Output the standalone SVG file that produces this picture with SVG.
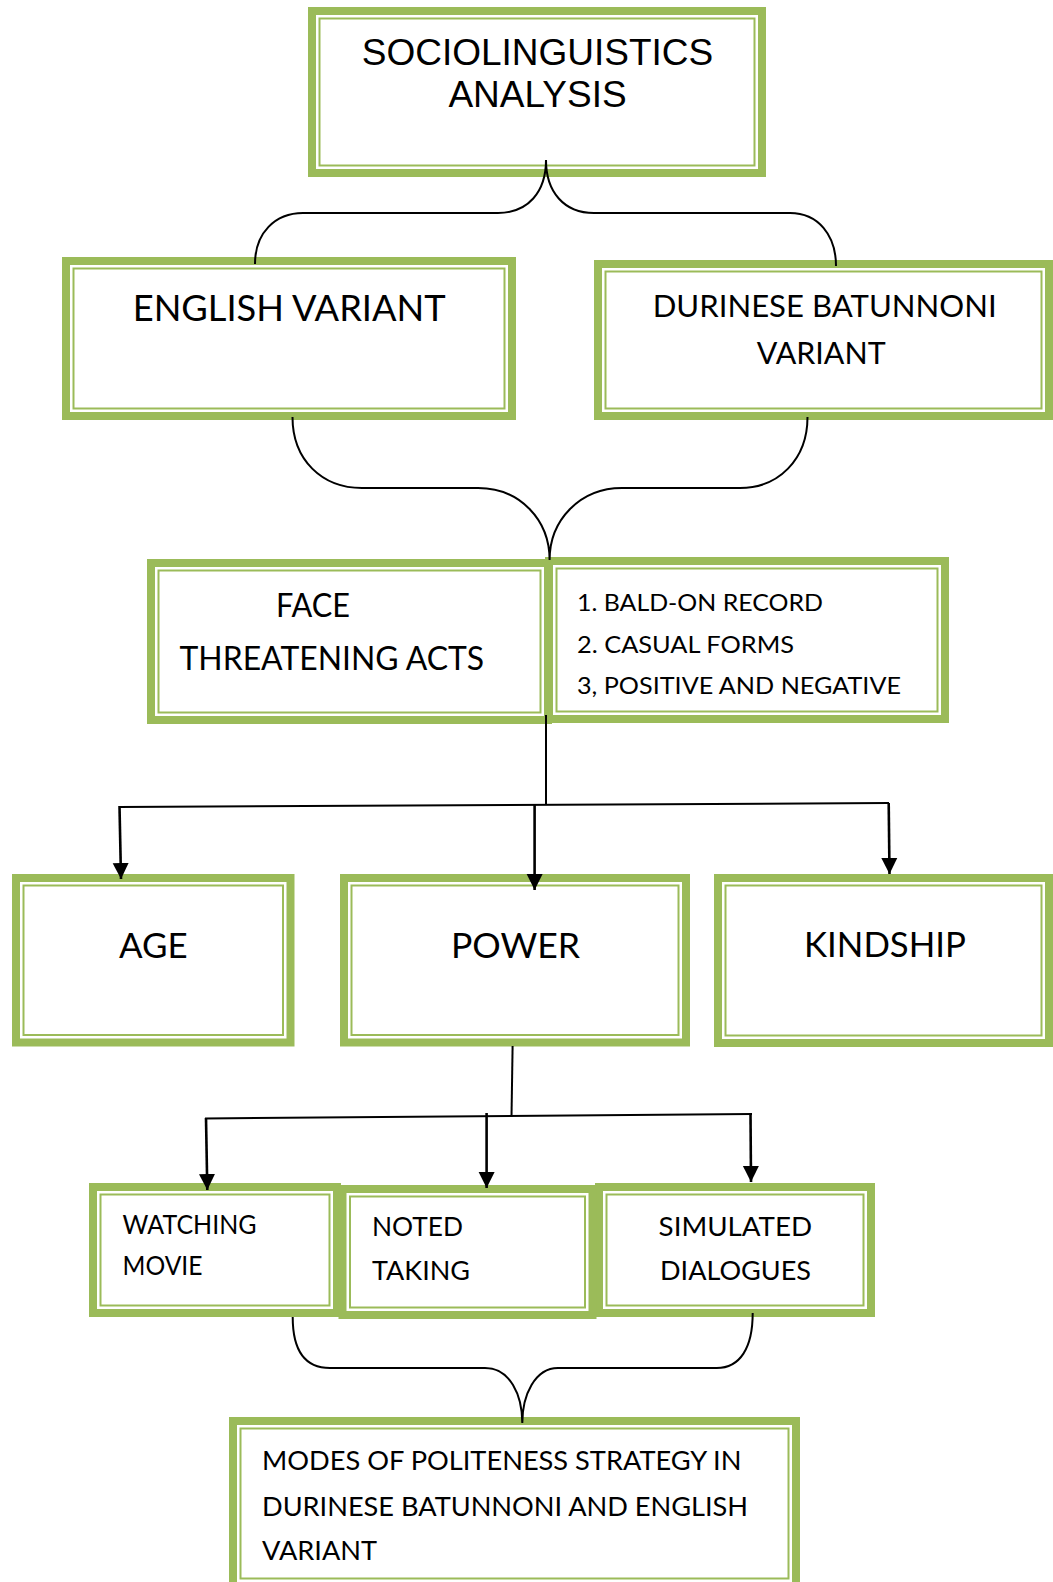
<svg xmlns="http://www.w3.org/2000/svg" width="1053" height="1582" viewBox="0 0 1053 1582">
<defs>
<style>
.thick{fill:#ffffff;stroke:#9BBB59;stroke-width:8}
.thin{fill:none;stroke:#9BBB59;stroke-width:2}
.t{font-family:Lato,"Open Sans",sans-serif;fill:#000000}
.ta{font-family:"Liberation Sans",Arial,sans-serif;fill:#000000;font-size:37px;text-anchor:middle}
.brace{fill:none;stroke:#000000;stroke-width:2}
.arr{fill:none;stroke:#000000;stroke-width:2.6}
.ln{fill:none;stroke:#000000;stroke-width:2}
</style>
<marker id="ah" markerUnits="userSpaceOnUse" markerWidth="18" markerHeight="18" refX="16" refY="8" orient="auto" viewBox="0 0 18 16">
<path d="M0,0 L16,8 L0,16 Z" fill="#000000"/>
</marker>
</defs>
<rect width="1053" height="1582" fill="#ffffff"/>
<g id="node-sociolinguistics">
<rect class="thick" x="312" y="11" width="450" height="162"/>
<rect class="thin" x="319.5" y="18.5" width="435" height="147"/>
<text class="ta" x="537.5" y="65">SOCIOLINGUISTICS</text>
<text class="ta" x="537.5" y="107">ANALYSIS</text>
</g>
<g id="node-english">
<rect class="thick" x="66" y="261" width="446" height="155"/>
<rect class="thin" x="73.5" y="268.5" width="431" height="140"/>
<text class="t" x="132.7" y="320.7" font-size="36" textLength="313" lengthAdjust="spacingAndGlyphs">ENGLISH VARIANT</text>
</g>
<g id="node-durinese">
<rect class="thick" x="598" y="264" width="451" height="152"/>
<rect class="thin" x="605.5" y="271.5" width="436" height="137"/>
<text class="t" x="652.7" y="317.3" font-size="31" textLength="344" lengthAdjust="spacingAndGlyphs">DURINESE BATUNNONI</text>
<text class="t" x="756.7" y="364" font-size="31" textLength="129" lengthAdjust="spacingAndGlyphs">VARIANT</text>
</g>
<g id="node-fta">
<rect class="thick" x="151" y="563" width="397" height="157"/>
<rect class="thin" x="158.5" y="570.5" width="382" height="142"/>
<text class="t" x="276" y="617" font-size="32" textLength="74" lengthAdjust="spacingAndGlyphs">FACE</text>
<text class="t" x="179.5" y="669.5" font-size="32" textLength="304.5" lengthAdjust="spacingAndGlyphs">THREATENING ACTS</text>
</g>
<g id="node-list">
<rect class="thick" x="549" y="561" width="396" height="158"/>
<rect class="thin" x="556.5" y="568.5" width="381" height="143"/>
<text class="t" x="577" y="611" font-size="22.5" textLength="246" lengthAdjust="spacingAndGlyphs">1. BALD-ON RECORD</text>
<text class="t" x="577" y="652.5" font-size="22.5" textLength="217" lengthAdjust="spacingAndGlyphs">2. CASUAL FORMS</text>
<text class="t" x="577" y="693.5" font-size="22.5" textLength="324" lengthAdjust="spacingAndGlyphs">3, POSITIVE AND NEGATIVE</text>
</g>
<g id="node-age">
<rect class="thick" x="16" y="878" width="274.5" height="164.5"/>
<rect class="thin" x="23.5" y="885.5" width="259.5" height="149.5"/>
<text class="t" x="119" y="957.5" font-size="34.5" textLength="68.6" lengthAdjust="spacingAndGlyphs">AGE</text>
</g>
<g id="node-power">
<rect class="thick" x="344" y="878" width="342" height="164.5"/>
<rect class="thin" x="351.5" y="885.5" width="327" height="149.5"/>
<text class="t" x="451" y="957.5" font-size="34.5" textLength="129" lengthAdjust="spacingAndGlyphs">POWER</text>
</g>
<g id="node-kindship">
<rect class="thick" x="718" y="878" width="331" height="165"/>
<rect class="thin" x="725.5" y="885.5" width="316" height="150"/>
<text class="t" x="804" y="957" font-size="34.5" textLength="162" lengthAdjust="spacingAndGlyphs">KINDSHIP</text>
</g>
<g id="node-watching">
<rect class="thick" x="93" y="1187" width="244" height="126"/>
<rect class="thin" x="100.5" y="1194.5" width="229" height="111"/>
<text class="t" x="122.5" y="1233.5" font-size="26.5" textLength="134" lengthAdjust="spacingAndGlyphs">WATCHING</text>
<text class="t" x="122.5" y="1274.5" font-size="26.5" textLength="80" lengthAdjust="spacingAndGlyphs">MOVIE</text>
</g>
<g id="node-simulated">
<rect class="thick" x="599" y="1187" width="272" height="126"/>
<rect class="thin" x="606.5" y="1194.5" width="257" height="111"/>
<text class="t" x="658.6" y="1235.5" font-size="26.5" textLength="153.5" lengthAdjust="spacingAndGlyphs">SIMULATED</text>
<text class="t" x="660" y="1280" font-size="26.5" textLength="151" lengthAdjust="spacingAndGlyphs">DIALOGUES</text>
</g>
<g id="node-noted">
<rect class="thick" x="342.5" y="1189" width="250" height="126"/>
<rect class="thin" x="350" y="1196.5" width="235" height="111"/>
<text class="t" x="372" y="1235.5" font-size="26.5" textLength="91" lengthAdjust="spacingAndGlyphs">NOTED</text>
<text class="t" x="372" y="1280" font-size="26.5" textLength="98" lengthAdjust="spacingAndGlyphs">TAKING</text>
</g>
<g id="node-modes">
<rect class="thick" x="233" y="1421" width="563" height="165"/>
<rect class="thin" x="240.5" y="1428.5" width="548" height="150"/>
<text class="t" x="262" y="1470" font-size="26.5" textLength="479.5" lengthAdjust="spacingAndGlyphs">MODES OF POLITENESS STRATEGY IN</text>
<text class="t" x="262" y="1516" font-size="26.5" textLength="486" lengthAdjust="spacingAndGlyphs">DURINESE BATUNNONI AND ENGLISH</text>
<text class="t" x="262" y="1560" font-size="26.5" textLength="115" lengthAdjust="spacingAndGlyphs">VARIANT</text>
</g>
<g id="connectors">
<path class="brace" d="M255,264 C255,233 275,213 303,213 L498,213 C528,213 546,192 546,160 C546,192 564,213 594,213 L790,213 C818,213 836,235 836,266"/>
<path class="brace" d="M292.5,417 C292.5,460 322,488 362,488 L478,488 C520,488 549.6,520 549.6,560 C549.6,520 580,488 622,488 L740,488 C778,488 807.5,460 807.5,417"/>
<path class="brace" d="M292.7,1317 C292.7,1350 305,1368 330,1368 L485,1368 C510,1368 522.3,1395 522.3,1423 C522.3,1395 535,1368 558,1368 L716.7,1368 C740,1368 752.7,1348 752.7,1313"/>
<path class="ln" d="M546,715 L546,805"/>
<path class="ln" d="M119,807 L889,803"/>
<path class="arr" d="M119.5,806 L121,879" marker-end="url(#ah)"/>
<path class="arr" d="M534.6,805 L534.6,890" marker-end="url(#ah)"/>
<path class="arr" d="M888.7,803 L889.5,874" marker-end="url(#ah)"/>
<path class="ln" d="M512.6,1046 L511.5,1117"/>
<path class="ln" d="M205,1118.5 L752,1114"/>
<path class="arr" d="M206,1118 L207.3,1190" marker-end="url(#ah)"/>
<path class="arr" d="M486.6,1113 L486.6,1188" marker-end="url(#ah)"/>
<path class="arr" d="M750.5,1113 L751,1182" marker-end="url(#ah)"/>
</g>
</svg>
